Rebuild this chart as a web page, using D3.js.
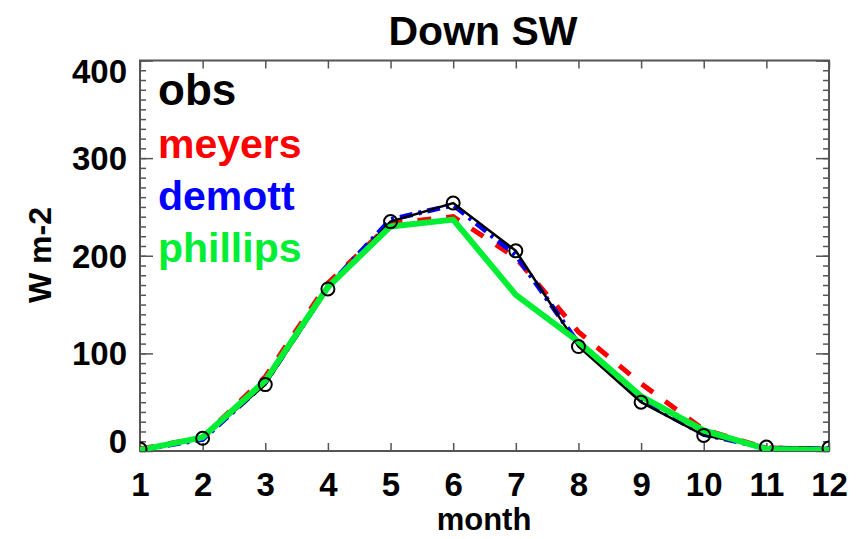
<!DOCTYPE html>
<html>
<head>
<meta charset="utf-8">
<script src="https://cdn.jsdelivr.net/npm/d3@7"></script>
<style>
  html, body { margin: 0; padding: 0; background: #fff; }
  svg { display: block; }
  text { font-family: "Liberation Sans", Arial, Helvetica, sans-serif; font-weight: bold; }
</style>
</head>
<body>
<svg id="chart" width="865" height="539"></svg>
<script>
// ---- data ----
const months = [1, 2, 3, 4, 5, 6, 7, 8, 9, 10, 11, 12];
const obs      = [2, 13, 68, 166, 235, 254, 205, 107, 50, 16, 4, 3];
const meyers   = [2, 14, 76, 172, 233, 240, 198, 122, 69, 22, 3, 2];
const demott   = [1, 12, 70, 168, 237, 252, 201, 110, 52, 17, 3, 2];
const phillips = [1, 14, 72, 168, 230, 237, 160, 112, 56, 21, 2, 1];
const seriesNames = ["obs", "meyers", "demott", "phillips"];
const xTicks = [1, 2, 3, 4, 5, 6, 7, 8, 9, 10, 11, 12];
const yTicks = [0, 100, 200, 300, 400];
const yMinorTicks = d3.range(0, 401, 10);
const title = "Down SW";
const xLabel = "month";
const yLabel = "W m-2";

// ---- layout ----
const L = 140, R = 829, T = 60.5, B = 451;
const svg = d3.select("#chart");
const x = d3.scaleLinear().domain([1, 12]).range([L, R]);
const y = d3.scaleLinear().domain([0, 400]).range([B, T]);
const axisColor = "#555";

svg.append("defs").append("clipPath").attr("id", "clip")
  .append("rect").attr("x", L).attr("y", T).attr("width", R - L).attr("height", B - T);

function styleAxis(g) {
  g.select(".domain").remove();
  g.selectAll(".tick line").attr("stroke", axisColor).attr("stroke-width", 1.5);
}
svg.append("g").attr("transform", `translate(${L},0)`)
  .call(d3.axisRight(y).tickValues(yMinorTicks).tickSize(6).tickFormat(""))
  .call(styleAxis);
svg.append("g").attr("transform", `translate(${R},0)`)
  .call(d3.axisLeft(y).tickValues(yMinorTicks).tickSize(6).tickFormat(""))
  .call(styleAxis);
svg.append("g").attr("transform", `translate(${L},0)`)
  .call(d3.axisRight(y).tickValues(yTicks).tickSize(13).tickFormat(""))
  .call(styleAxis);
svg.append("g").attr("transform", `translate(${R},0)`)
  .call(d3.axisLeft(y).tickValues(yTicks).tickSize(13).tickFormat(""))
  .call(styleAxis);
svg.append("g").attr("transform", `translate(0,${B})`)
  .call(d3.axisTop(x).tickValues(xTicks).tickSize(8).tickFormat(""))
  .call(styleAxis);
svg.append("g").attr("transform", `translate(0,${T})`)
  .call(d3.axisBottom(x).tickValues(xTicks).tickSize(8).tickFormat(""))
  .call(styleAxis);

svg.append("rect").attr("x", L).attr("y", T).attr("width", R - L).attr("height", B - T)
  .attr("fill", "none").attr("stroke", axisColor).attr("stroke-width", 2);

// y tick labels
const yLabG = svg.append("g").attr("transform", `translate(${L},0)`)
  .call(d3.axisLeft(y).tickValues(yTicks).tickSize(0).tickPadding(13).tickFormat(d3.format("d")));
yLabG.select(".domain").remove();
yLabG.selectAll("text")
  .attr("fill", "#000").attr("font-size", 33)
  .attr("font-family", "Liberation Sans, Arial, sans-serif").attr("font-weight", "bold")
  .attr("dy", d => d === 400 ? "0.68em" : d === 0 ? "0.03em" : "0.35em");

// x tick labels
const xLabG = svg.append("g").attr("transform", `translate(0,${B})`)
  .call(d3.axisBottom(x).tickValues(xTicks).tickSize(0).tickPadding(0).tickFormat(d3.format("d")));
xLabG.select(".domain").remove();
xLabG.selectAll("text")
  .attr("fill", "#000").attr("font-size", 33)
  .attr("font-family", "Liberation Sans, Arial, sans-serif").attr("font-weight", "bold")
  .attr("y", 45).attr("dy", 0);

// titles
svg.append("text").attr("x", 483).attr("y", 45).attr("text-anchor", "middle")
  .attr("font-size", 41).text(title);
svg.append("text").attr("x", 484).attr("y", 530).attr("text-anchor", "middle")
  .attr("font-size", 31).text(xLabel);
svg.append("text").attr("transform", "translate(51,255) rotate(-90)").attr("text-anchor", "middle")
  .attr("font-size", 32).text(yLabel);

// lines
const line = d3.line().x((d, i) => x(months[i])).y(d => y(d));
const plot = svg.append("g").attr("clip-path", "url(#clip)");
plot.append("path").datum(meyers).attr("d", line).attr("fill", "none")
  .attr("stroke", "#ff0000").attr("stroke-width", 5).attr("stroke-dasharray", "14,15");
plot.append("path").datum(demott).attr("d", line).attr("fill", "none")
  .attr("stroke", "#0000ff").attr("stroke-width", 5).attr("stroke-dasharray", "13,6,3,6");
plot.append("path").datum(obs).attr("d", line).attr("fill", "none")
  .attr("stroke", "#000").attr("stroke-width", 2.5);
plot.append("path").datum(phillips).attr("d", line).attr("fill", "none")
  .attr("stroke", "#00ee33").attr("stroke-width", 6).attr("stroke-linejoin", "round");
plot.selectAll("circle.obs").data(obs).enter().append("circle")
  .attr("cx", (d, i) => x(months[i])).attr("cy", d => y(d)).attr("r", 6.5)
  .attr("fill", "none").attr("stroke", "#000").attr("stroke-width", 2);

// legend
const legendColors = ["#000", "#ff0000", "#0000ff", "#00ee33"];
const legendY = [105, 158, 210, 262];
const legendSize = [44, 41, 41, 41];
svg.selectAll("text.leg").data(seriesNames).enter().append("text")
  .attr("class", "leg").attr("x", 158).attr("y", (d, i) => legendY[i])
  .attr("font-size", (d, i) => legendSize[i]).attr("fill", (d, i) => legendColors[i]).text(d => d);
</script>
</body>
</html>
